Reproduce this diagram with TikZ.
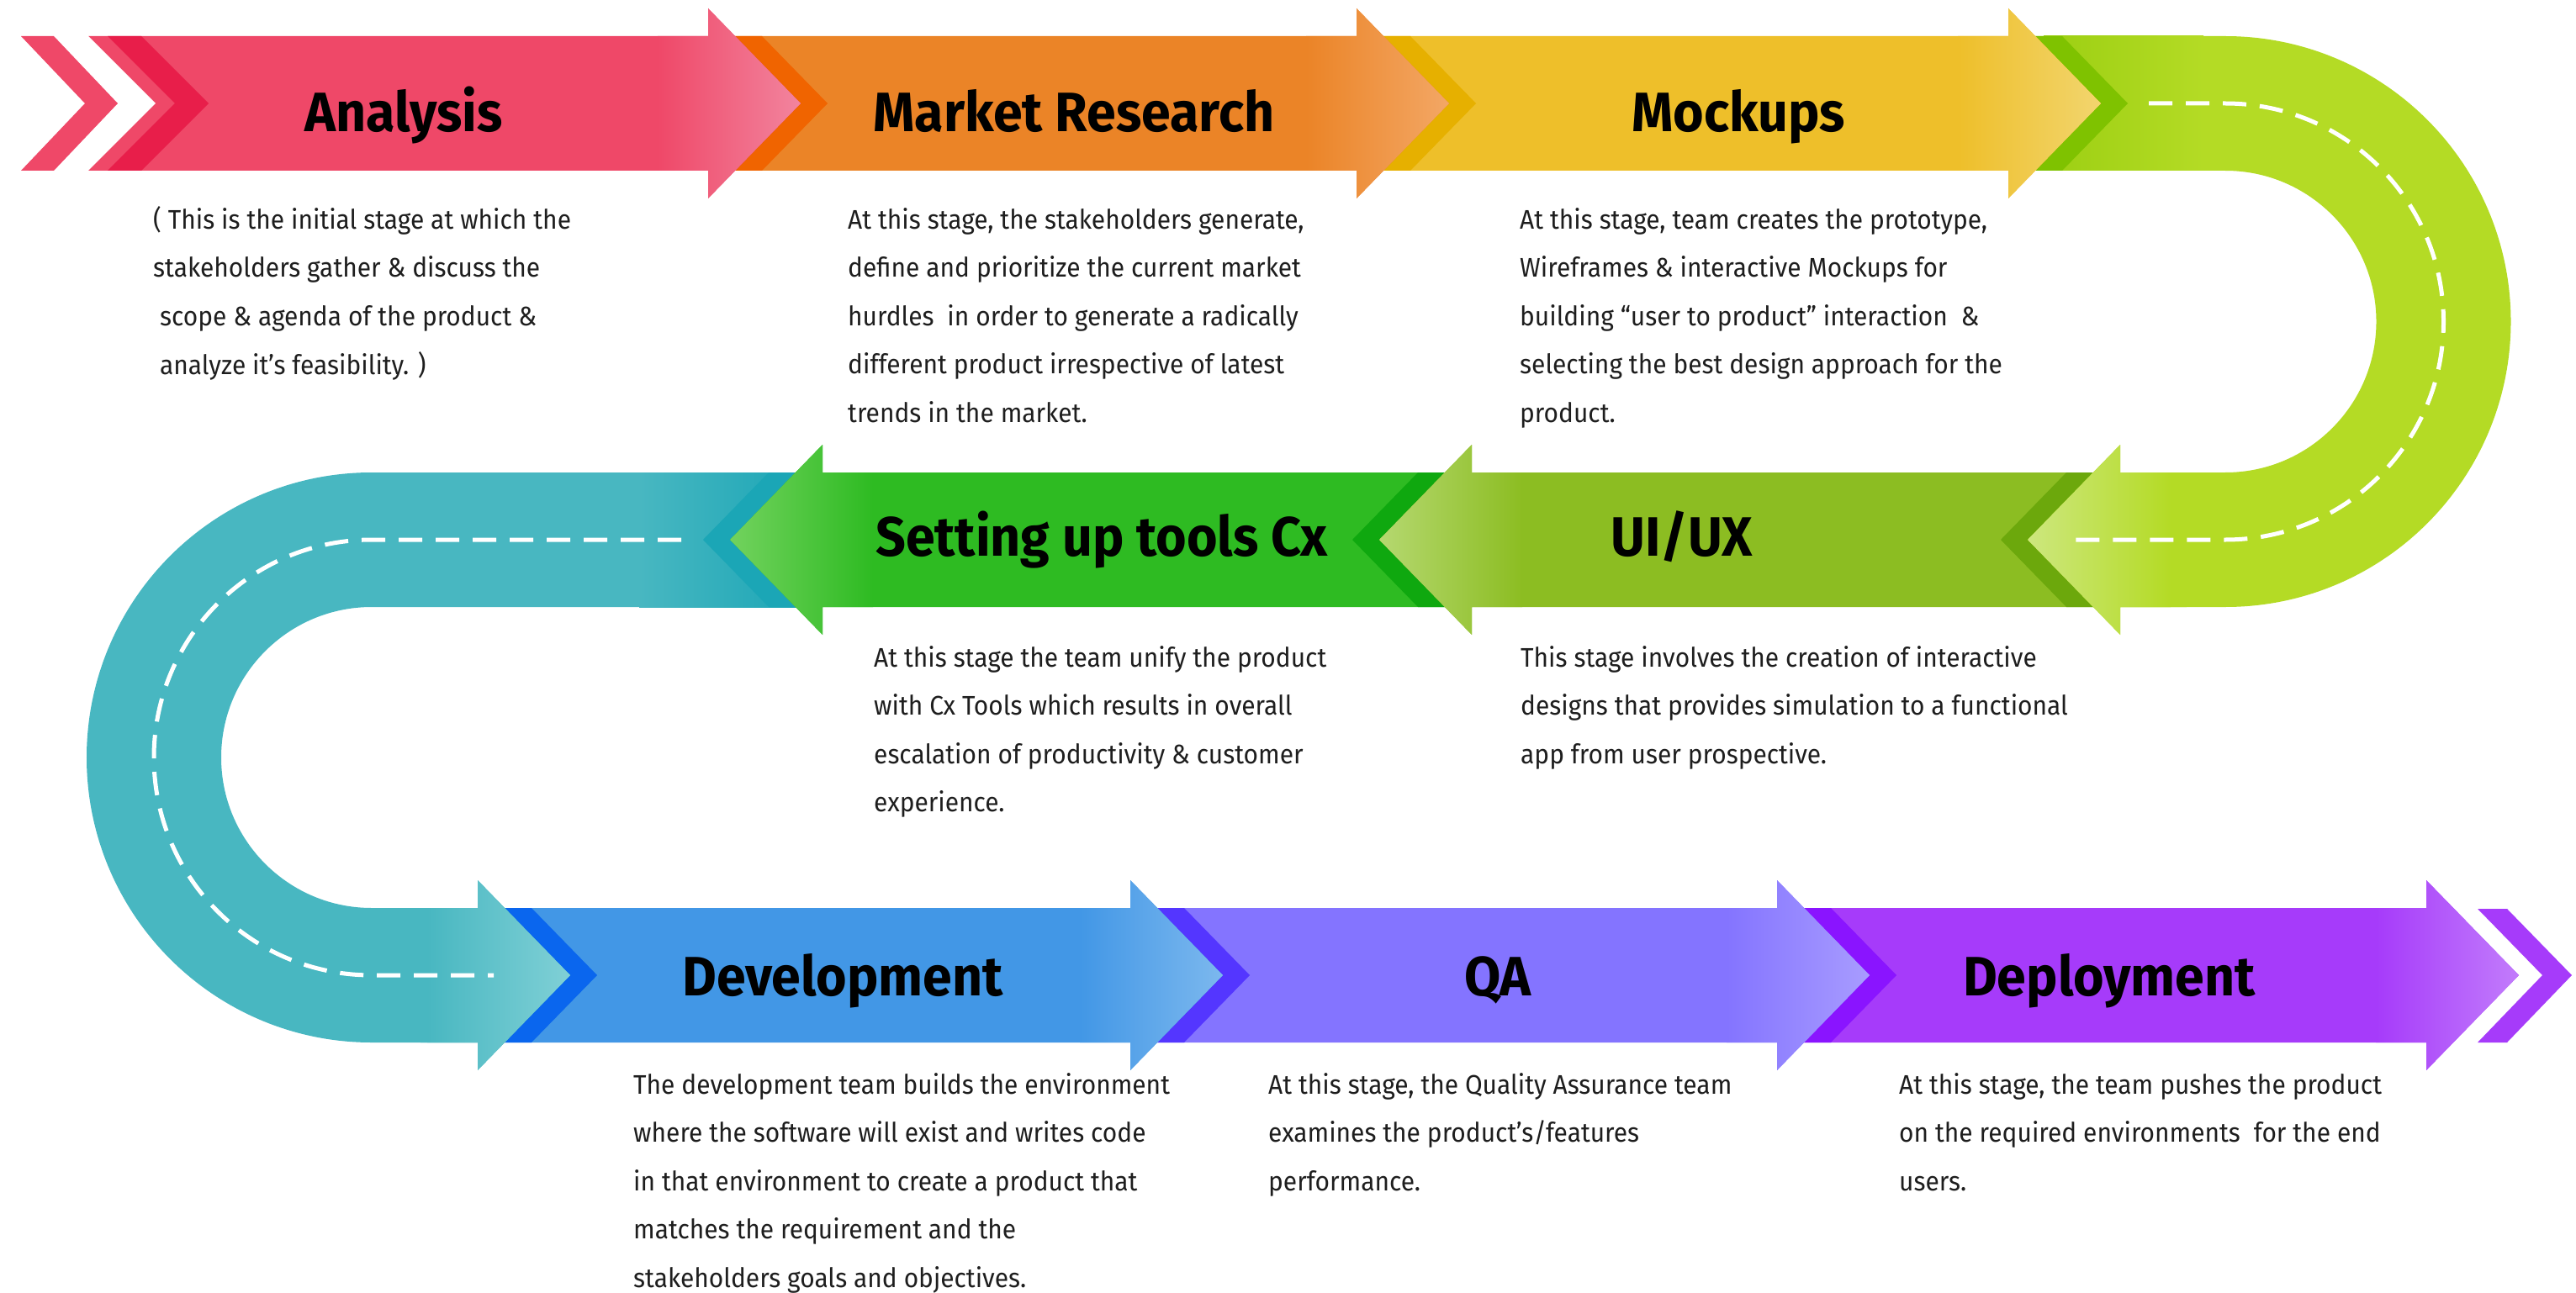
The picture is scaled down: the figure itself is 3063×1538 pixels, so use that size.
\documentclass[tikz,border=0pt]{standalone}
\usepackage{fontspec}
\setmainfont{Fira Sans}[FakeStretch=0.935]
\newfontfamily\titlefont{Fira Sans}[FakeStretch=0.95]
\usepackage{xcolor}

% stage colours
\definecolor{anaPink}{HTML}{EF4868}
\definecolor{anaDark}{HTML}{E81E4A}
\definecolor{anaLight}{HTML}{F2849E}
\definecolor{mrkOrange}{HTML}{EB8427}
\definecolor{mrkDark}{HTML}{F06400}
\definecolor{mrkLight}{HTML}{F3A765}
\definecolor{mckYellow}{HTML}{EEBF2A}
\definecolor{mckDark}{HTML}{E6B000}
\definecolor{mckLight}{HTML}{F2D56E}
\definecolor{uLime}{HTML}{B4DB25}
\definecolor{uLimeMid}{HTML}{9CCF12}
\definecolor{uLimeDark}{HTML}{7FC200}
\definecolor{uLimeLight}{HTML}{CDE77E}
\definecolor{uxOlive}{HTML}{8CBD22}
\definecolor{uxDark}{HTML}{6CA80C}
\definecolor{uxLight}{HTML}{B5D870}
\definecolor{cxGreen}{HTML}{2EBB22}
\definecolor{cxDark}{HTML}{0FA80F}
\definecolor{cxLight}{HTML}{72D25E}
\definecolor{uTeal}{HTML}{48B7C1}
\definecolor{uTealDark}{HTML}{1BA6B6}
\definecolor{uTealLight}{HTML}{80D0D6}
\definecolor{devBlue}{HTML}{4297E6}
\definecolor{devDark}{HTML}{0A66EE}
\definecolor{devLight}{HTML}{7CB8EE}
\definecolor{qaViolet}{HTML}{8474FF}
\definecolor{qaDark}{HTML}{5436FF}
\definecolor{qaLight}{HTML}{A89CFF}
\definecolor{depPurple}{HTML}{A63BFA}
\definecolor{depDark}{HTML}{8A14FF}
\definecolor{depLight}{HTML}{C27CFB}
\definecolor{textGray}{HTML}{1E1E1E}

% right-pointing stage: start x, head base x, centre y, colour, light colour
\newcommand{\rightstage}[5]{%
  \fill[#4] (#1,#3-80) -- (#2,#3-80) -- (#2,#3-113) -- (#2+110,#3) -- (#2,#3+113) -- (#2,#3+80) -- (#1,#3+80) -- cycle;
  \shade[left color=#4, right color=#5] (#2-60,#3-80) -- (#2,#3-80) -- (#2,#3-113) -- (#2+110,#3) -- (#2,#3+113) -- (#2,#3+80) -- (#2-60,#3+80) -- cycle;}
% left-pointing stage: start x, head base x, centre y, colour, light colour
\newcommand{\leftstage}[5]{%
  \fill[#4] (#1,#3-80) -- (#2,#3-80) -- (#2,#3-113) -- (#2-110,#3) -- (#2,#3+113) -- (#2,#3+80) -- (#1,#3+80) -- cycle;
  \shade[right color=#4, left color=#5] (#2+60,#3-80) -- (#2,#3-80) -- (#2,#3-113) -- (#2-110,#3) -- (#2,#3+113) -- (#2,#3+80) -- (#2+60,#3+80) -- cycle;}
% dark stripe hugging the head in front: head base x, centre y, colour
\newcommand{\righttail}[3]{%
  \fill[#3] (#1,#2-80) -- (#1+64,#2-80) -- (#1+142,#2) -- (#1+64,#2+80) -- (#1,#2+80) -- cycle;}
\newcommand{\lefttail}[3]{%
  \fill[#3] (#1,#2-80) -- (#1-64,#2-80) -- (#1-142,#2) -- (#1-64,#2+80) -- (#1,#2+80) -- cycle;}

\begin{document}
\begin{tikzpicture}[x=1pt, y=-1pt,
    stagetitle/.style={anchor=base, inner sep=0, font=\titlefont\fontsize{66}{66}\selectfont\bfseries},
    stagetext/.style={anchor=north west, inner sep=0, align=left, text=textGray, font=\fontsize{32}{57.6}\selectfont},
    roadline/.style={white, line width=5, dash pattern=on 28 off 16}]
    \useasboundingbox (0,0) rectangle (3063,1538);
    \fill[white] (0,0) rectangle (3063,1538);

    % bottom row: Deployment, QA, Development
    \fill[depPurple] (2946,1081) -- (2981,1081) -- (3058,1160) -- (2981,1240) -- (2946,1240) -- (3023,1160) -- cycle;
    \rightstage{2130}{2885}{1160}{depPurple}{depLight}
    \righttail{2113}{1160}{depDark}
    \rightstage{1360}{2113}{1160}{qaViolet}{qaLight}
    \righttail{1344}{1160}{qaDark}
    \rightstage{580}{1344}{1160}{devBlue}{devLight}
    \righttail{568}{1160}{devDark}

    % left U-turn
    \draw[uTeal, line width=160] (960,642) -- (442,642) arc[start angle=270, end angle=90, radius=259] -- (568,1160);
    \shade[left color=uTeal, right color=uTealDark] (760,562) rectangle (960,722);
    \rightstage{500}{568}{1160}{uTeal}{uTealLight}
    \lefttail{978}{642}{uTealDark}
    \draw[roadline] (810,642) -- (442,642) arc[start angle=270, end angle=90, radius=259] -- (587,1160);

    % middle row: Setting up tools Cx, UI/UX
    \leftstage{1730}{978}{642}{cxGreen}{cxLight}
    \lefttail{1750}{642}{cxDark}
    \leftstage{2500}{1750}{642}{uxOlive}{uxLight}
    \lefttail{2521}{642}{uxDark}

    % right U-turn
    \draw[uLime, line width=160] (2395,123) -- (2646,123) arc[start angle=270, end angle=450, radius=259.5] -- (2521,642);
    \shade[left color=uLimeMid, right color=uLime] (2430,43) rectangle (2620,203);
    \leftstage{2600}{2521}{642}{uLime}{uLimeLight}
    \righttail{2388}{123}{uLimeDark}
    \draw[roadline] (2555,123) -- (2646,123) arc[start angle=270, end angle=450, radius=259.5] -- (2468,642);

    % top row: Mockups, Market Research, Analysis
    \rightstage{1625}{2388}{123}{mckYellow}{mckLight}
    \righttail{1613}{123}{mckDark}
    \rightstage{855}{1613}{123}{mrkOrange}{mrkLight}
    \righttail{842}{123}{mrkDark}
    \rightstage{105}{842}{123}{anaPink}{anaLight}
    \fill[white] (104,42) -- (185,123) -- (104,204) -- cycle;
    \fill[anaDark] (128,43) -- (168,43) -- (248,123) -- (168,203) -- (128,203) -- (208,123) -- cycle;
    \fill[anaPink] (25,43) -- (64,43) -- (140,123) -- (64,203) -- (25,203) -- (101,123) -- cycle;

    % stage titles
    \node[stagetitle] (analysis) at (480,157) {Analysis};
    \node[stagetitle] (market) at (1277,157) {Market Research};
    \node[stagetitle] (mockups) at (2067,157) {Mockups};
    \node[stagetitle] (uiux) at (2000,661) {UI/UX};
    \node[stagetitle] (cxtools) at (1310,661) {Setting up tools Cx};
    \node[stagetitle] (devel) at (1002,1184) {Development};
    \node[stagetitle] (qa) at (1781,1184) {QA};
    \node[stagetitle] (deploy) at (2508,1184) {Deployment};

    % stage descriptions
    \node[stagetext] (analysistext) at (182,245) {( This is the initial stage at which the\\stakeholders gather \& discuss the\\\ scope \& agenda of the product \&\\\ analyze it’s feasibility. )};
    \node[stagetext] (markettext) at (1008,247) {At this stage, the stakeholders generate,\\define and prioritize the current market\\hurdles\ \ in order to generate a radically\\different product irrespective of latest\\trends in the market.};
    \node[stagetext] (mockupstext) at (1807,247) {At this stage, team creates the prototype,\\Wireframes \& interactive Mockups for\\building “user to product” interaction\ \ \&\\selecting the best design approach for the\\product.};
    \node[stagetext] (cxtoolstext) at (1039,768) {At this stage the team unify the product\\with Cx Tools which results in overall\\escalation of productivity \& customer\\experience.};
    \node[stagetext] (uiuxtext) at (1808,768) {This stage involves the creation of interactive\\designs that provides simulation to a functional\\app from user prospective.};
    \node[stagetext] (develtext) at (753,1276) {The development team builds the environment\\where the software will exist and writes code\\in that environment to create a product that\\matches the requirement and the\\stakeholders goals and objectives.};
    \node[stagetext] (qatext) at (1508,1276) {At this stage, the Quality Assurance team\\examines the product's/features\\performance.};
    \node[stagetext] (deploytext) at (2258,1276) {At this stage, the team pushes the product\\on the required environments\ \ for the end\\users.};
\end{tikzpicture}
\end{document}
